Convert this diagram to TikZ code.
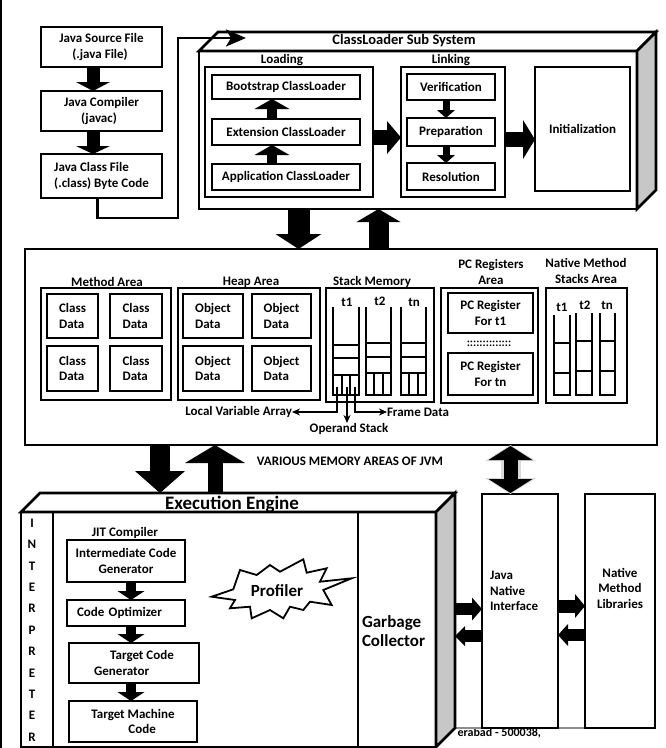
\documentclass[tikz,border=0pt]{standalone}
\usepackage{fontspec}
\setmainfont{Carlito}
\usetikzlibrary{arrows.meta,calc}
\begin{document}
\begin{tikzpicture}[x=1pt,y=-1pt,
  font=\bfseries\fontsize{13}{15.5}\selectfont,
  line join=miter,
  sz/.style 2 args={minimum width=#1, minimum height=#2},
  box/.style={draw, line width=2.5pt, fill=white, inner sep=0pt, outer sep=0pt, align=center},
  lbl/.style={inner sep=0pt, outer sep=0pt, align=center},
  blk/.style n args={3}{draw=black, line width=#1, -{Triangle[length=#2, width=#3, line width=0pt]}},
  conn/.style={line width=1.8pt, -{Stealth[length=8pt, width=7pt]}},
  colline/.style={line width=2.2pt},
  topface/.style={draw, line width=2.6pt, fill=white},
  sideface/.style={draw, line width=2.6pt, fill=black!22},
  titlefont/.style={font=\bfseries\fontsize{14.5}{17}\selectfont},
  bigfont/.style={font=\bfseries\fontsize{17}{19}\selectfont},
  hugefont/.style={font=\bfseries\fontsize{19}{22}\selectfont},
]
\useasboundingbox (0,0) rectangle (666,748);
\fill[white] (0,0) rectangle (666,748);

% page edge
\draw[line width=2pt] (1,0) -- (1,748);

% ---------- source file to class file ----------
\node[box, sz={121pt}{40pt}, align=left] (src) at (101.5,47) {Java Source File\\\hspace*{13pt}(.java File)};
\node[box, sz={121pt}{40pt}, align=left] (jc) at (101.5,111) {Java Compiler\\\hspace*{17pt}(javac)};
\node[box, sz={121pt}{44pt}, align=left] (jcf) at (101.5,176) {Java Class File\\(.class) Byte Code};
\draw[blk={13pt}{9pt}{34pt}] ([xshift=-8.5pt]src.south) -- ([xshift=-8.5pt]jc.north);
\draw[blk={13pt}{8pt}{34pt}] ([xshift=-8.5pt]jc.south) -- ([xshift=-8.5pt]jcf.north);

% ---------- class loader sub system ----------
\node[box, line width=2.6pt, sz={438pt}{158pt}] (cls) at (418,130) {};
\draw[topface] (cls.north west) -- ++(19,-19) -- ++(438,0) -- (cls.north east) -- cycle;
\draw[sideface] (cls.north east) -- ++(19,-19) -- ++(0,158) -- (cls.south east) -- cycle;
\node[lbl, titlefont] (clstitle) at (404,41) {ClassLoader Sub System};
\node[lbl] (loadlbl) at (282,60) {Loading};
\node[box, sz={168pt}{130pt}] (load) at (289,132) {};
\node[box, sz={148pt}{24pt}] (boot) at (286,87) {Bootstrap ClassLoader};
\node[box, sz={148pt}{26pt}] (ext) at (286,132) {Extension ClassLoader};
\node[box, sz={148pt}{26pt}] (app) at (286,177) {Application ClassLoader};
\node[lbl] (linklbl) at (451,60) {Linking};
\node[box, sz={104pt}{130pt}] (link) at (453,132) {};
\node[box, sz={88pt}{26pt}] (ver) at (451,87) {Verification};
\node[box, sz={88pt}{28pt}] (prep) at (451,132) {Preparation};
\node[box, sz={88pt}{27pt}] (res) at (451,176.5) {Resolution};
\node[box, sz={95pt}{124pt}] (init) at (582.5,129) {Initialization};

\draw[blk={10pt}{10pt}{35pt}] ([xshift=-14pt]ext.north) -- ([xshift=-14pt]boot.south);
\draw[blk={10pt}{10pt}{35pt}] ([xshift=-14pt]app.north) -- ([xshift=-14pt]ext.south);
\draw[blk={7pt}{8pt}{18pt}] ([xshift=-5pt]ver.south) -- ([xshift=-5pt]prep.north);
\draw[blk={7pt}{8pt}{18pt}] ([xshift=-5pt]prep.south) -- ([xshift=-5pt]res.north);
\draw[blk={15pt}{14pt}{33pt}] ([yshift=-5.5pt]load.east) -- ([yshift=-5.5pt]load.east -| link.west);
\draw[blk={15pt}{12pt}{39pt}] ([yshift=-7.5pt]link.east) -- ([yshift=-7.5pt]link.east -| init.west);

% class file into the class loader
\coordinate (cfbend) at (178,218);
\coordinate (cfin) at (246,38);
\draw[line width=2.6pt, -{Stealth[length=20pt, width=17pt, inset=5pt]}] ([xshift=-4pt]jcf.south) |- (cfbend) |- (cfin);

% ---------- runtime memory areas ----------
\node[box, line width=2.6pt, sz={632pt}{196pt}] (mem) at (341,347) {};

\node[lbl] (malbl) at (107,282) {Method Area};
\node[box, sz={130pt}{112pt}] (ma) at (106,344) {};
\node[box, sz={51pt}{44pt}, align=left] (cd1) at (72.5,316) {Class\\Data};
\node[box, sz={52pt}{44pt}, align=left] (cd2) at (136,316) {Class\\Data};
\node[box, sz={51pt}{45pt}, align=left] (cd3) at (72.5,368.5) {Class\\Data};
\node[box, sz={52pt}{45pt}, align=left] (cd4) at (136,368.5) {Class\\Data};

\node[lbl] (hplbl) at (251,282) {Heap Area};
\node[box, sz={142pt}{112pt}] (hp) at (249,344) {};
\node[box, sz={60pt}{44pt}, align=left] (od1) at (213,316) {Object\\Data};
\node[box, sz={59pt}{44pt}, align=left] (od2) at (281.5,316) {Object\\Data};
\node[box, sz={60pt}{45pt}, align=left] (od3) at (213,368.5) {Object\\Data};
\node[box, sz={59pt}{45pt}, align=left] (od4) at (281.5,368.5) {Object\\Data};

\node[lbl] (smlbl) at (372,282) {Stack Memory};
\node[box, sz={108pt}{114pt}] (sm) at (380,345) {};
\node[lbl] (st1) at (347,302) {t1};
\node[lbl] (st2) at (380,301) {t2};
\node[lbl] (stn) at (414,302) {tn};
\foreach \l/\r/\a/\b/\c in {333/359/345/358/375, 366/391/343/357/373, 401/426/343/357/373}{
  \draw[colline] (\l,307) -- (\l,395) -- (\r,395) -- (\r,307);
  \draw[colline] (\l,\a) -- (\r,\a) (\l,\b) -- (\r,\b) (\l,\c) -- (\r,\c)
    ({\l+(\r-\l)/3},\c) -- ({\l+(\r-\l)/3},395) ({\l+2*(\r-\l)/3},\c) -- ({\l+2*(\r-\l)/3},395);
}
\coordinate (lvs) at (337,387);
\coordinate (ops) at (347,387);
\coordinate (fds) at (355,387);
\node[lbl, anchor=east] (lva) at (292,412) {Local Variable Array};
\node[lbl, anchor=north] (opnd) at (349,423) {Operand Stack};
\node[lbl, anchor=west] (frd) at (387,412) {Frame Data};
\draw[conn] (lvs) |- (lva.east);
\draw[conn] (ops) -- (ops |- opnd.north);
\draw[conn] (fds) |- (frd.west);

\node[lbl] (pclbl) at (491,272) {PC Registers\\Area};
\node[box, sz={97pt}{115pt}] (pc) at (489.5,345.5) {};
\node[box, sz={85pt}{40pt}] (pc1) at (490.5,313) {PC Register\\For t1};
\node[lbl, font=\bfseries\fontsize{11.5}{12}\selectfont] (pcdots) at (489,344) {::::::::::::::};
\node[box, sz={85pt}{42pt}] (pcn) at (490.5,374) {PC Register\\For tn};

\node[lbl] (nmlbl) at (586,271) {Native Method\\Stacks Area};
\node[box, sz={81pt}{115pt}] (nms) at (586.5,345.5) {};
\node[lbl] (nt1) at (562,307) {t1};
\node[lbl] (nt2) at (585,305) {t2};
\node[lbl] (ntn) at (607,305) {tn};
\foreach \l/\r/\t/\a/\b in {554/570/315/343/373, 576/592/313/341/371, 600/615/313/341/371}{
  \draw[colline] (\l,\t) -- (\l,395) -- (\r,395) -- (\r,\t);
  \draw[colline] (\l,\a) -- (\r,\a) (\l,\b) -- (\r,\b);
}

% ---------- connectors to and from memory ----------
\coordinate (cdx) at (298.5,0);
\coordinate (cux) at (378.5,0);
\draw[blk={22pt}{15pt}{46pt}] (cls.south -| cdx) -- (mem.north -| cdx);
\draw[blk={20pt}{13pt}{44pt}] (mem.north -| cux) -- (cls.south -| cux);

\node[lbl] (vmlbl) at (350,461) {VARIOUS MEMORY AREAS OF JVM};

% text partly hidden behind the engine
\node[lbl, anchor=east, font=\bfseries\fontsize{12}{14}\selectfont] (addr) at (541,733) {erabad - 500038,};
\draw[line width=2pt, black!45] (455,728) -- (585,728);

% ---------- execution engine ----------
\node[box, line width=2.6pt, sz={415pt}{235pt}] (ee) at (228.5,629.5) {};
\draw[topface] (ee.north west) -- ++(19,-19) -- ++(415,0) -- (ee.north east) -- cycle;
\draw[sideface] (ee.north east) -- ++(19,-19) -- ++(0,235) -- (ee.south east) -- cycle;
\node[lbl, hugefont, anchor=base] (eetitle) at (232,509) {Execution Engine};
\coordinate (eeback) at ($(ee.north)+(0,-19)$);
\coordinate (eeside) at (455,611);

\draw[line width=2.5pt] (53,512) -- (53,747);
\foreach \ch [count=\i] in {I,N,T,E,R,P,R,E,T,E,R}
  \node[lbl] (interp\i) at (32,{523+21.4*(\i-1)}) {\ch};

\node[lbl] (jitlbl) at (125,533) {JIT Compiler};
\node[box, sz={118pt}{42pt}] (icg) at (126,561) {Intermediate Code\\Generator};
\node[box, sz={118pt}{26pt}, text width=98pt, align=left] (co) at (126,613) {Code Optimizer};
\node[box, sz={130pt}{40pt}, align=left] (tcg) at (134,663) {\hspace*{16pt}Target Code\\Generator};
\node[box, sz={128pt}{41pt}, align=left] (tmc) at (133,721.5) {Target Machine\\\hspace*{37pt}Code};
\coordinate (jitx) at (131,0);
\draw[blk={10pt}{9pt}{27pt}] (icg.south -| jitx) -- (co.north -| jitx);
\draw[blk={10pt}{9pt}{27pt}] (co.south -| jitx) -- (tcg.north -| jitx);
\draw[blk={10pt}{9pt}{27pt}] (tcg.south -| jitx) -- (tmc.north -| jitx);

% profiler burst
\draw[line width=1.8pt, fill=white] (211.7,596.7) -- (233.3,589.3) -- (240,570) -- (256.7,575)
  -- (270,565) -- (280,571.7) -- (303.3,559.3) -- (306.7,572.7) -- (326.7,568.3)
  -- (320,581.7) -- (351.7,578.3) -- (323.3,590) -- (331.7,605) -- (310,601.7)
  -- (303.3,610) -- (290,606.7) -- (283.3,618.3) -- (270,610) -- (251.7,618.3)
  -- (250,606.7) -- (230,608.3) -- (235,600) -- cycle;
\node[lbl, bigfont] (prof) at (277,591) {Profiler};

\draw[line width=2.5pt] (358,512) -- (358,747);
\node[lbl, bigfont, align=left, anchor=west] (gc) at (362,631) {Garbage\\Collector};

% ---------- native interface and libraries ----------
\node[box, sz={76pt}{234pt}] (jni) at (520,611) {};
\node[lbl, align=left, anchor=west] (jnitxt) at (490,591) {Java\\Native\\Interface};
\node[box, sz={70pt}{234pt}] (nml) at (620,611) {};
\node[lbl] (nmltxt) at (620,588) {Native\\Method\\Libraries};

\draw[blk={12pt}{10pt}{23pt}] ($(eeside)+(0,-2)$) -- ($(jni.west)+(0,-2)$);
\draw[blk={12pt}{10pt}{20pt}] ($(jni.west)+(0,25)$) -- ($(eeside)+(0,25)$);
\draw[blk={13pt}{10pt}{24pt}] ($(jni.east)+(0,-5)$) -- ($(nml.west)+(0,-5)$);
\draw[blk={12pt}{10pt}{22pt}] ($(nml.west)+(0,24)$) -- ($(jni.east)+(0,24)$);

% memory <-> engine
\coordinate (mdx) at (160,0);
\coordinate (mux) at (215,0);
\draw[blk={20pt}{22pt}{50pt}] (mem.south -| mdx) -- (eeback -| mdx);
\draw[blk={15pt}{18pt}{60pt}] (eeback -| mux) -- (mem.south -| mux);

% memory <-> native interface
\coordinate (jx) at (510.5,0);
\draw[line width=20pt, draw=black!15, {Triangle[length=16pt, width=51pt, line width=0pt]}-{Triangle[length=16pt, width=51pt, line width=0pt]}] (mem.south -| jx) -- (jni.north -| jx);
\draw[line width=14pt, draw=black, {Triangle[length=14pt, width=44pt, line width=0pt]}-{Triangle[length=14pt, width=44pt, line width=0pt]}] ([yshift=-1pt]mem.south -| jx) -- ([yshift=1pt]jni.north -| jx);
\end{tikzpicture}
\end{document}
